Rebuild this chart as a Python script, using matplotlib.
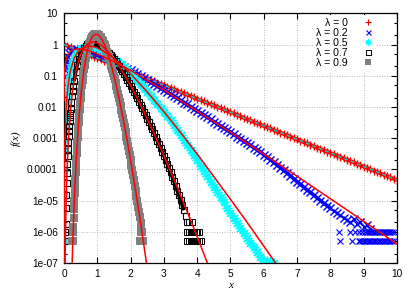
import numpy as np
import matplotlib
matplotlib.use('Agg')
import matplotlib.pyplot as plt
from matplotlib.lines import Line2D

# ---- data: histograms, stored as log10 f(x) ----
labels = ['λ = 0', 'λ = 0.2', 'λ = 0.5', 'λ = 0.7', 'λ = 0.9']

# lambda = 0 (red +)
x_l0 = np.round(np.arange(0.0, 10.05, 0.1), 3)
logf_l0 = [0.00, -0.04, -0.09, -0.13, -0.17, -0.22, -0.26, -0.30, -0.35, -0.39,
           -0.43, -0.48, -0.52, -0.56, -0.61, -0.65, -0.69, -0.74, -0.78, -0.83,
           -0.87, -0.91, -0.96, -1.00, -1.04, -1.09, -1.13, -1.17, -1.22, -1.26,
           -1.30, -1.35, -1.39, -1.43, -1.48, -1.52, -1.56, -1.61, -1.65, -1.69,
           -1.74, -1.78, -1.82, -1.87, -1.91, -1.95, -2.00, -2.04, -2.08, -2.13,
           -2.17, -2.21, -2.26, -2.30, -2.35, -2.39, -2.43, -2.48, -2.52, -2.56,
           -2.61, -2.65, -2.69, -2.74, -2.78, -2.82, -2.87, -2.91, -2.95, -3.00,
           -3.04, -3.08, -3.13, -3.17, -3.21, -3.26, -3.30, -3.34, -3.39, -3.43,
           -3.47, -3.52, -3.56, -3.60, -3.65, -3.69, -3.73, -3.78, -3.82, -3.87,
           -3.91, -3.95, -4.00, -4.04, -4.08, -4.13, -4.17, -4.21, -4.26, -4.30,
           -4.34]

# lambda = 0.2 (blue x)
x_l02 = np.concatenate([[0.0, 0.0, 0.005, 0.01, 0.02, 0.03, 0.05, 0.07, 0.1, 0.15, 0.2],
                        np.round(np.arange(0.3, 8.55, 0.1), 3),
                        [8.6, 8.7, 8.8, 8.9, 9.0, 9.1, 9.2]])
logf_l02 = [-2.69, -1.70, -1.27, -1.05, -0.83, -0.70, -0.55, -0.46, -0.36, -0.27, -0.21,
            -0.16, -0.14, -0.14, -0.16, -0.19, -0.22, -0.26, -0.30,
            -0.34, -0.39, -0.44, -0.49, -0.55, -0.60, -0.66, -0.71, -0.77, -0.83,
            -0.89, -0.95, -1.01, -1.08, -1.14, -1.20, -1.27, -1.33, -1.40, -1.46,
            -1.53, -1.59, -1.66, -1.72, -1.79, -1.86, -1.92, -1.99, -2.06, -2.13,
            -2.19, -2.26, -2.33, -2.40, -2.47, -2.54, -2.61, -2.68, -2.74, -2.81,
            -2.88, -2.95, -3.02, -3.09, -3.16, -3.23, -3.30, -3.37, -3.44, -3.53,
            -3.61, -3.69, -3.77, -3.86, -3.95, -4.03, -4.12, -4.21, -4.30, -4.40,
            -4.48, -4.57, -4.66, -4.74, -4.82, -4.91, -5.00, -5.08, -5.16, -5.24,
            -5.32, -5.40, -5.47, -5.55, -5.62,
            -5.68, -5.60, -5.75, -5.70, -5.85, -5.78, -5.90]
# single/double counts in the far tail
x_l02_two = [8.25, 8.6, 8.75, 8.85, 8.95, 9.05, 9.1, 9.15, 9.2, 9.25, 9.3, 9.35, 9.4,
             9.45, 9.5, 9.55, 9.6, 9.65, 9.7, 9.75, 9.8, 9.85, 9.9]
x_l02_one = [8.3, 8.65, 8.85, 8.9, 8.95, 9.0, 9.05, 9.1, 9.15, 9.2, 9.25, 9.3, 9.35,
             9.4, 9.45, 9.5, 9.55, 9.6, 9.65, 9.7, 9.75, 9.8, 9.85, 9.9]

# lambda = 0.5 (cyan asterisk)
x_l05 = np.concatenate([[0.005, 0.01, 0.015, 0.02, 0.025, 0.03, 0.04, 0.05, 0.06, 0.07,
                         0.08, 0.1, 0.12, 0.15, 0.2, 0.25, 0.3, 0.35],
                        np.round(np.arange(0.4, 6.05, 0.1), 3),
                        [6.1, 6.2, 6.3]])
logf_l05 = [-6.30, -4.85, -4.05, -3.40, -3.05, -2.80, -2.63, -2.36, -2.14, -1.96,
            -1.80, -1.54, -1.34, -1.10, -0.81, -0.61, -0.46, -0.35,
            -0.26, -0.14, -0.08, -0.05, -0.05, -0.07, -0.11,
            -0.16, -0.22, -0.29, -0.36, -0.45, -0.54, -0.63, -0.73, -0.83, -0.94,
            -1.05, -1.16, -1.28, -1.40, -1.52, -1.64, -1.77, -1.89, -2.02, -2.15,
            -2.29, -2.43, -2.58, -2.73, -2.90, -3.06, -3.22, -3.38, -3.55, -3.71,
            -3.88, -4.05, -4.22, -4.39, -4.55, -4.72, -4.89, -5.06, -5.24, -5.41,
            -5.57, -5.73, -5.88, -6.04, -6.20, -6.35, -6.50, -6.66, -6.81, -6.95,
            -6.92, -6.97, -7.00]

# lambda = 0.7 (black open squares)
x_l07 = np.concatenate([[0.04, 0.05, 0.06, 0.07, 0.08, 0.09, 0.10, 0.11, 0.12, 0.13, 0.14,
                         0.15, 0.16, 0.17, 0.18, 0.19, 0.20, 0.22, 0.24, 0.26, 0.28, 0.30],
                        np.round(np.arange(0.35, 3.725, 0.05), 3)])
logf_l07 = [-6.30, -5.76, -5.24, -4.81, -4.43, -4.11, -3.83, -3.57, -3.34, -3.13, -2.94,
            -2.77, -2.60, -2.46, -2.32, -2.19, -2.07, -1.85, -1.65, -1.48, -1.32, -1.18,
            -0.89, -0.65, -0.47, -0.32, -0.21, -0.12, -0.05, 0.01, 0.04, 0.07, 0.08, 0.08,
            0.07, 0.05,
            0.02, -0.01, -0.05, -0.09, -0.14, -0.20, -0.26, -0.32, -0.39, -0.46,
            -0.53, -0.61, -0.69, -0.77, -0.86, -0.95, -1.04, -1.13, -1.22, -1.32,
            -1.42, -1.52, -1.62, -1.72, -1.83, -1.94, -2.05, -2.16, -2.27, -2.38,
            -2.49, -2.61, -2.72, -2.84, -2.96, -3.08, -3.20, -3.32, -3.44, -3.56,
            -3.69, -3.82, -3.96, -4.10, -4.24, -4.38, -4.53, -4.68, -4.83, -4.99,
            -5.15, -5.31, -5.48, -5.70]
x_l07_tail = [0.045, 3.75, 3.85, 3.70, 3.75, 3.80, 3.85, 3.90, 3.95, 4.00, 4.05,
              3.70, 3.75, 3.80, 3.85, 3.90, 3.95, 4.00, 4.05, 4.10]
logf_l07_tail = [-6.00, -5.70, -5.70, -6.00, -6.00, -6.00, -6.00, -6.00, -6.00, -6.00, -6.00,
                 -6.30, -6.30, -6.30, -6.30, -6.30, -6.30, -6.30, -6.30, -6.30]

# lambda = 0.9 (grey filled squares)
x_l09 = np.concatenate([[0.23, 0.25, 0.26, 0.27, 0.28, 0.29, 0.30, 0.31, 0.32, 0.33, 0.34,
                         0.35, 0.36, 0.37, 0.38, 0.39, 0.40, 0.41, 0.42, 0.43, 0.44, 0.45,
                         0.46, 0.47, 0.48, 0.49],
                        np.round(np.arange(0.50, 1.21, 0.02), 3),
                        np.round(np.arange(1.225, 2.3125, 0.025), 3),
                        [2.32, 2.30, 2.35, 2.28, 2.36]])
logf_l09 = [-6.30, -6.30, -6.30, -6.00, -5.85, -5.56, -5.28, -5.02, -4.77, -4.53, -4.30,
            -4.08, -3.87, -3.67, -3.48, -3.30, -3.12, -2.96, -2.80, -2.64, -2.49, -2.35,
            -2.21, -2.08, -1.96, -1.84,
            -1.72, -1.51, -1.31, -1.13, -0.96, -0.80, -0.66, -0.53, -0.42, -0.31,
            -0.21, -0.12, -0.05, 0.02, 0.09, 0.14, 0.19, 0.23, 0.26, 0.28,
            0.30, 0.32, 0.33, 0.33, 0.33, 0.32, 0.31, 0.30, 0.28, 0.25,
            0.23, 0.19, 0.16, 0.12, 0.08, 0.03,
            -0.03, -0.10, -0.17, -0.25, -0.33, -0.41, -0.50, -0.60, -0.69, -0.79, -0.90,
            -1.00, -1.11, -1.23, -1.34, -1.46, -1.58, -1.71, -1.84, -1.97, -2.10, -2.23,
            -2.37, -2.51, -2.65, -2.80, -2.95, -3.09, -3.24, -3.40, -3.55, -3.71, -3.87,
            -4.03, -4.19, -4.35, -4.52, -4.68, -4.85, -5.02, -5.19, -5.37, -5.54, -5.72,
            -5.90, -6.00, -6.00, -6.30, -6.30]

# ---- fitted curves ----
fit_x_l0 = [0.0, 10.0]
fit_logf_l0 = [0.0, -4.34]
fit_x_l02 = [0.001, 0.005, 0.01, 0.02, 0.05, 0.1, 0.2, 0.3, 0.43, 0.6, 0.8, 1.0, 1.5,
             2, 3, 4, 5, 6, 7, 8, 9, 10]
fit_logf_l02 = [-1.79, -1.27, -1.05, -0.83, -0.55, -0.36, -0.21, -0.16, -0.14, -0.16,
                -0.22, -0.30, -0.55, -0.83, -1.46, -2.13, -2.81, -3.51, -4.22, -4.94,
                -5.66, -6.39]
fit_x_l05 = [0.0013, 0.003, 0.01, 0.02, 0.03, 0.05, 0.07, 0.1, 0.15, 0.2, 0.3, 0.4, 0.5,
             0.6, 0.75, 0.9, 1.0, 1.2, 1.4, 1.6, 1.8, 2.0, 2.5, 3.0, 3.5, 4.0, 4.5, 5.0,
             5.5, 6.0, 6.4]
fit_logf_l05 = [-7.03, -5.94, -4.39, -3.50, -2.99, -2.36, -1.96, -1.54, -1.10, -0.81,
                -0.46, -0.26, -0.14, -0.08, -0.05, -0.07, -0.11, -0.22, -0.36, -0.54,
                -0.73, -0.94, -1.52, -2.15, -2.82, -3.51, -4.23, -4.96, -5.70, -6.46,
                -7.07]
fit_x_l07 = [0.03, 0.04, 0.05, 0.06, 0.08, 0.1, 0.12, 0.15, 0.2, 0.25, 0.3, 0.4, 0.5,
             0.6, 0.7, 0.8, 0.9, 1.0, 1.1, 1.2, 1.4, 1.6, 1.8, 2.0, 2.2, 2.4, 2.6, 2.8,
             3.0, 3.2, 3.4, 3.6, 3.8, 4.0, 4.2, 4.35]
fit_logf_l07 = [-7.24, -6.40, -5.76, -5.24, -4.43, -3.83, -3.34, -2.77, -2.07, -1.56,
                -1.18, -0.65, -0.32, -0.12, 0.01, 0.07, 0.08, 0.05, -0.01, -0.09,
                -0.32, -0.61, -0.95, -1.32, -1.72, -2.16, -2.61, -3.08, -3.56, -4.06,
                -4.57, -5.09, -5.62, -6.16, -6.71, -7.12]
fit_x_l09 = [0.24, 0.26, 0.28, 0.30, 0.32, 0.34, 0.36, 0.38, 0.40, 0.44, 0.48, 0.52, 0.56,
             0.60, 0.64, 0.68, 0.72, 0.76, 0.80, 0.84, 0.88, 0.92, 0.96, 1.00, 1.04, 1.08,
             1.12, 1.16, 1.20, 1.25, 1.30, 1.35, 1.40, 1.45, 1.50, 1.60, 1.70, 1.80, 1.90,
             2.00, 2.10, 2.20, 2.30, 2.40, 2.50]
fit_logf_l09 = [-7.17, -6.47, -5.85, -5.28, -4.77, -4.30, -3.87, -3.48, -3.12, -2.49,
                -1.96, -1.51, -1.13, -0.80, -0.53, -0.31, -0.12, 0.02, 0.14, 0.23, 0.28,
                0.32, 0.33, 0.32, 0.30, 0.25, 0.19, 0.12, 0.03, -0.10, -0.25, -0.41,
                -0.60, -0.79, -1.00, -1.46, -1.97, -2.51, -3.09, -3.71, -4.35, -5.02,
                -5.72, -6.44, -7.17]

ytick_vals = [1e1, 1e0, 1e-1, 1e-2, 1e-3, 1e-4, 1e-5, 1e-6, 1e-7]
ytick_text = ['10', '1', '0.1', '0.01', '0.001', '0.0001', '1e-05', '1e-06', '1e-07']


def p10(v):
    return 10.0 ** np.asarray(v, dtype=float)


def dense_band(ax, x, logf, lo, hi, color, lw):
    # the histogram is so dense in the bulk that its points merge into a band
    x = np.asarray(x, dtype=float)
    y = p10(logf)
    m = (x >= lo) & (x <= hi)
    ax.plot(x[m], y[m], color=color, lw=lw, solid_capstyle='butt', zorder=2)


plt.rcParams['font.family'] = ['Liberation Sans', 'DejaVu Sans']
fig = plt.figure(figsize=(4.15, 2.91), dpi=100)
ax = fig.add_axes([0.1542, 0.0962, 0.8024, 0.8581])

red = '#ff0000'
blue = '#0000ff'
cyan = '#00ffff'
grey = '#808080'
fit_kw = dict(color=red, lw=1.1, zorder=3)
star = (8, 2, 0)

# lambda = 0
dense_band(ax, x_l0, logf_l0, 0.0, 10.0, red, 2.6)
ax.plot(x_l0, p10(logf_l0), ls='none', marker='+', ms=5.8, mew=1.0, color=red, zorder=2)
ax.plot(fit_x_l0, p10(fit_logf_l0), color='#30b8b8', lw=1.1, ls=(0, (2.5, 2)), zorder=3)

# lambda = 0.2
dense_band(ax, x_l02, logf_l02, 0.2, 8.0, blue, 2.6)
ax.plot(x_l02, p10(logf_l02), ls='none', marker='x', ms=5.2, mew=1.0, color=blue, zorder=2)
ax.plot(x_l02_two, p10([-6.0] * len(x_l02_two)), ls='none', marker='x', ms=4, mew=0.8,
        color=blue, zorder=2)
ax.plot(x_l02_one, p10([-6.3] * len(x_l02_one)), ls='none', marker='x', ms=4, mew=0.8,
        color=blue, zorder=2)
ax.plot(fit_x_l02, p10(fit_logf_l02), **fit_kw)

# lambda = 0.5
dense_band(ax, x_l05, logf_l05, 0.15, 6.0, cyan, 3.2)
ax.plot(x_l05, p10(logf_l05), ls='none', marker=star, ms=7, mew=1.0, color=cyan, zorder=2)
ax.plot(fit_x_l05, p10(fit_logf_l05), **fit_kw)

# lambda = 0.7
dense_band(ax, x_l07, logf_l07, 0.3, 3.6, 'black', 2.6)
ax.plot(x_l07, p10(logf_l07), ls='none', marker='s', ms=5, mew=0.8, mfc='none',
        mec='black', zorder=2)
ax.plot(x_l07_tail, p10(logf_l07_tail), ls='none', marker='s', ms=4, mew=0.7, mfc='none',
        mec='black', zorder=2)
ax.plot(fit_x_l07, p10(fit_logf_l07), **fit_kw)

# lambda = 0.9
dense_band(ax, x_l09, logf_l09, 0.36, 2.25, grey, 3.2)
ax.plot(x_l09, p10(logf_l09), ls='none', marker='s', ms=5.5, mew=0.0, color=grey, zorder=2)
ax.plot(fit_x_l09, p10(fit_logf_l09), **fit_kw)

# ---- axes ----
ax.set_yscale('log')
ax.set_xlim(0, 10)
ax.set_ylim(1e-7, 10)
ax.set_xticks(range(0, 11))
ax.set_yticks(ytick_vals)
ax.set_yticklabels(ytick_text)
ax.yaxis.set_minor_locator(matplotlib.ticker.LogLocator(base=10, subs=(2.0, 5.0), numticks=20))
ax.yaxis.set_minor_formatter(matplotlib.ticker.NullFormatter())
ax.tick_params(which='both', direction='in', top=True, right=True, labelsize=7.3,
               width=0.8, pad=4.5)
ax.tick_params(which='major', length=4)
ax.tick_params(which='minor', length=2.5)
ax.grid(True, which='major', ls=(0, (1, 2)), color='#a0a0a0', lw=0.6)
ax.set_axisbelow(True)
for s in ax.spines.values():
    s.set_linewidth(0.9)

ax.set_xlabel('x', fontsize=8, family='Liberation Serif', style='italic', labelpad=1)
ax.set_ylabel('f(x)', fontsize=8, family='Liberation Serif', style='italic', labelpad=4)

handles = [
    Line2D([], [], ls='none', marker='+', ms=4.5, mew=0.8, color=red),
    Line2D([], [], ls='none', marker='x', ms=3.6, mew=0.8, color=blue),
    Line2D([], [], ls='none', marker=star, ms=4.5, mew=0.8, color=cyan),
    Line2D([], [], ls='none', marker='s', ms=3.6, mew=0.7, mfc='none', mec='black'),
    Line2D([], [], ls='none', marker='s', ms=3.8, mew=0.0, color=grey),
]
leg = ax.legend(handles, labels, loc='upper right', bbox_to_anchor=(0.937, 0.995),
                borderaxespad=0, markerfirst=False, fontsize=7.6, handlelength=1.0,
                handletextpad=1.4, labelspacing=0.0, borderpad=0.3, frameon=True,
                fancybox=False)
leg.get_frame().set_facecolor('white')
leg.get_frame().set_edgecolor('none')
leg.get_frame().set_alpha(1.0)
leg.set_zorder(5)

fig.savefig('out.png', dpi=100)
